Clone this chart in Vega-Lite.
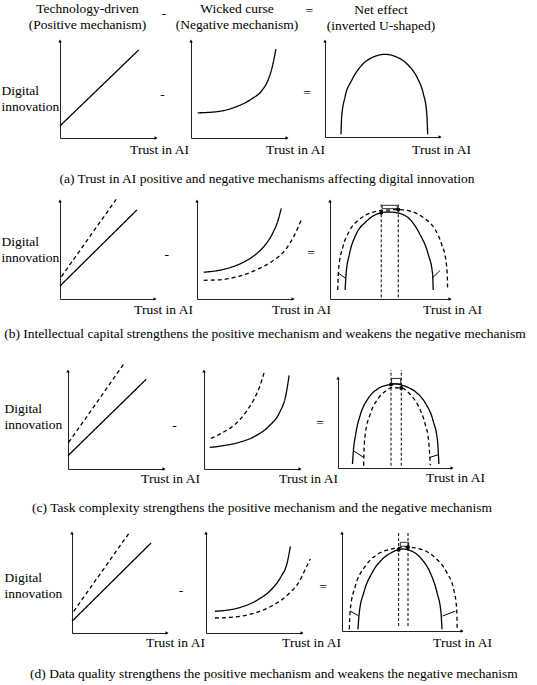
{
  "$schema": "https://vega.github.io/schema/vega-lite/v6.json",
  "padding": {"left": 1, "top": 2, "right": 2, "bottom": 2},
  "background": "white",
  "config": {
    "font": "Liberation Serif",
    "view": {"stroke": null},
    "axis": {
      "domainColor": "#222222",
      "domainWidth": 1,
      "ticks": false,
      "labels": false,
      "grid": false,
      "titleFont": "Liberation Serif",
      "titleFontSize": 13.5,
      "titleFontWeight": "normal",
      "titleColor": "black",
      "titlePadding": 0
    },
    "axisX": {"titleAlign": "center", "titleBaseline": "alphabetic"},
    "axisY": {"titleAngle": 0, "titleAlign": "left", "titleBaseline": "alphabetic", "titleLineHeight": 16},
    "text": {"font": "Liberation Serif", "fontSize": 13.5, "color": "black"},
    "line": {"color": "black", "strokeWidth": 1.3},
    "rule": {"color": "black"}
  },
  "datasets": {
    "curves": [
      {"panel": "a1", "series": "baseline", "x": 0, "y": 12.5},
      {"panel": "a1", "series": "baseline", "x": 82, "y": 90.8},
      {"panel": "a2", "series": "baseline", "x": 7, "y": 25.9},
      {"panel": "a2", "series": "baseline", "x": 28.1, "y": 27.3},
      {"panel": "a2", "series": "baseline", "x": 45.6, "y": 31.7},
      {"panel": "a2", "series": "baseline", "x": 63.2, "y": 40.3},
      {"panel": "a2", "series": "baseline", "x": 73.7, "y": 48.8},
      {"panel": "a2", "series": "baseline", "x": 80.7, "y": 60.8},
      {"panel": "a2", "series": "baseline", "x": 84.9, "y": 74.4},
      {"panel": "a2", "series": "baseline", "x": 88.4, "y": 91.5},
      {"panel": "a3", "series": "baseline", "x": 13.9, "y": 2.8},
      {"panel": "a3", "series": "baseline", "x": 14.5, "y": 20.8},
      {"panel": "a3", "series": "baseline", "x": 17.4, "y": 41.7},
      {"panel": "a3", "series": "baseline", "x": 23.2, "y": 59},
      {"panel": "a3", "series": "baseline", "x": 31.9, "y": 74.7},
      {"panel": "a3", "series": "baseline", "x": 42, "y": 83.3},
      {"panel": "a3", "series": "baseline", "x": 52.2, "y": 86.1},
      {"panel": "a3", "series": "baseline", "x": 62.3, "y": 83.3},
      {"panel": "a3", "series": "baseline", "x": 72.5, "y": 74.7},
      {"panel": "a3", "series": "baseline", "x": 80.6, "y": 60.8},
      {"panel": "a3", "series": "baseline", "x": 85.5, "y": 45.1},
      {"panel": "a3", "series": "baseline", "x": 88.4, "y": 26},
      {"panel": "a3", "series": "baseline", "x": 89.3, "y": 2.8},
      {"panel": "b1", "series": "baseline", "x": 0, "y": 13.3},
      {"panel": "b1", "series": "baseline", "x": 80.9, "y": 90.8},
      {"panel": "b1", "series": "moderated", "x": 1.5, "y": 22.8},
      {"panel": "b1", "series": "moderated", "x": 59.1, "y": 101.7},
      {"panel": "b2", "series": "baseline", "x": 7, "y": 27.3},
      {"panel": "b2", "series": "baseline", "x": 29.6, "y": 30.7},
      {"panel": "b2", "series": "baseline", "x": 47, "y": 36.9},
      {"panel": "b2", "series": "baseline", "x": 61, "y": 45.4},
      {"panel": "b2", "series": "baseline", "x": 71.4, "y": 55.6},
      {"panel": "b2", "series": "baseline", "x": 79.1, "y": 67.6},
      {"panel": "b2", "series": "baseline", "x": 84.7, "y": 81.2},
      {"panel": "b2", "series": "baseline", "x": 87.8, "y": 92.5},
      {"panel": "b2", "series": "moderated", "x": 7, "y": 19.1},
      {"panel": "b2", "series": "moderated", "x": 26.1, "y": 19.8},
      {"panel": "b2", "series": "moderated", "x": 43.6, "y": 23.2},
      {"panel": "b2", "series": "moderated", "x": 61, "y": 29.4},
      {"panel": "b2", "series": "moderated", "x": 78.4, "y": 38.6},
      {"panel": "b2", "series": "moderated", "x": 92.3, "y": 50.5},
      {"panel": "b2", "series": "moderated", "x": 101, "y": 64.2},
      {"panel": "b2", "series": "moderated", "x": 108.5, "y": 80.5},
      {"panel": "b3", "series": "baseline", "x": 12.6, "y": 9.2},
      {"panel": "b3", "series": "baseline", "x": 13.4, "y": 25.4},
      {"panel": "b3", "series": "baseline", "x": 16.2, "y": 45.8},
      {"panel": "b3", "series": "baseline", "x": 21.8, "y": 66.1},
      {"panel": "b3", "series": "baseline", "x": 30.2, "y": 79},
      {"panel": "b3", "series": "baseline", "x": 37, "y": 85.5},
      {"panel": "b3", "series": "baseline", "x": 42.7, "y": 88},
      {"panel": "b3", "series": "baseline", "x": 49, "y": 88.8},
      {"panel": "b3", "series": "baseline", "x": 58.1, "y": 87.3},
      {"panel": "b3", "series": "baseline", "x": 66.5, "y": 81.4},
      {"panel": "b3", "series": "baseline", "x": 74.9, "y": 66.1},
      {"panel": "b3", "series": "baseline", "x": 81.8, "y": 45.8},
      {"panel": "b3", "series": "baseline", "x": 85.5, "y": 25.4},
      {"panel": "b3", "series": "baseline", "x": 86, "y": 9.2},
      {"panel": "b3", "series": "moderated", "x": 6.4, "y": 9.2},
      {"panel": "b3", "series": "moderated", "x": 7.3, "y": 32.2},
      {"panel": "b3", "series": "moderated", "x": 10.6, "y": 52.5},
      {"panel": "b3", "series": "moderated", "x": 16.2, "y": 69.5},
      {"panel": "b3", "series": "moderated", "x": 24.6, "y": 81.4},
      {"panel": "b3", "series": "moderated", "x": 34.4, "y": 88.1},
      {"panel": "b3", "series": "moderated", "x": 45, "y": 90.5},
      {"panel": "b3", "series": "moderated", "x": 56.9, "y": 91.3},
      {"panel": "b3", "series": "moderated", "x": 66.5, "y": 89.8},
      {"panel": "b3", "series": "moderated", "x": 77.7, "y": 83.1},
      {"panel": "b3", "series": "moderated", "x": 87.4, "y": 71.2},
      {"panel": "b3", "series": "moderated", "x": 93, "y": 55.9},
      {"panel": "b3", "series": "moderated", "x": 96.6, "y": 39},
      {"panel": "b3", "series": "moderated", "x": 97.8, "y": 22},
      {"panel": "b3", "series": "moderated", "x": 98, "y": 9.2},
      {"panel": "c1", "series": "baseline", "x": 0, "y": 13.6},
      {"panel": "c1", "series": "baseline", "x": 81.4, "y": 91.5},
      {"panel": "c1", "series": "moderated", "x": 0.7, "y": 27.1},
      {"panel": "c1", "series": "moderated", "x": 57.9, "y": 106.8},
      {"panel": "c2", "series": "baseline", "x": 6, "y": 22},
      {"panel": "c2", "series": "baseline", "x": 20, "y": 23.8},
      {"panel": "c2", "series": "baseline", "x": 36.2, "y": 27.1},
      {"panel": "c2", "series": "baseline", "x": 53.9, "y": 33.9},
      {"panel": "c2", "series": "baseline", "x": 68.1, "y": 44.1},
      {"panel": "c2", "series": "baseline", "x": 78.7, "y": 57.6},
      {"panel": "c2", "series": "baseline", "x": 85.1, "y": 74.6},
      {"panel": "c2", "series": "baseline", "x": 88.7, "y": 95.6},
      {"panel": "c2", "series": "moderated", "x": 7.1, "y": 31.2},
      {"panel": "c2", "series": "moderated", "x": 18.4, "y": 36.6},
      {"panel": "c2", "series": "moderated", "x": 32.6, "y": 45.8},
      {"panel": "c2", "series": "moderated", "x": 43.3, "y": 57.6},
      {"panel": "c2", "series": "moderated", "x": 52.1, "y": 71.2},
      {"panel": "c2", "series": "moderated", "x": 58.2, "y": 84.7},
      {"panel": "c2", "series": "moderated", "x": 62.8, "y": 99},
      {"panel": "c3", "series": "baseline", "x": 12.7, "y": 4.4},
      {"panel": "c3", "series": "baseline", "x": 13.5, "y": 19.1},
      {"panel": "c3", "series": "baseline", "x": 15.5, "y": 37.5},
      {"panel": "c3", "series": "baseline", "x": 19.7, "y": 59.6},
      {"panel": "c3", "series": "baseline", "x": 26.8, "y": 77.9},
      {"panel": "c3", "series": "baseline", "x": 35.2, "y": 88.2},
      {"panel": "c3", "series": "baseline", "x": 45.1, "y": 92.6},
      {"panel": "c3", "series": "baseline", "x": 50.7, "y": 93.4},
      {"panel": "c3", "series": "baseline", "x": 59, "y": 90.8},
      {"panel": "c3", "series": "baseline", "x": 68, "y": 84.6},
      {"panel": "c3", "series": "baseline", "x": 76.5, "y": 72.4},
      {"panel": "c3", "series": "baseline", "x": 83.5, "y": 52.2},
      {"panel": "c3", "series": "baseline", "x": 87.3, "y": 30.1},
      {"panel": "c3", "series": "baseline", "x": 88.5, "y": 4.4},
      {"panel": "c3", "series": "moderated", "x": 22.5, "y": 2.6},
      {"panel": "c3", "series": "moderated", "x": 22.8, "y": 19.1},
      {"panel": "c3", "series": "moderated", "x": 23.9, "y": 37.5},
      {"panel": "c3", "series": "moderated", "x": 28.2, "y": 59.6},
      {"panel": "c3", "series": "moderated", "x": 34.6, "y": 76.1},
      {"panel": "c3", "series": "moderated", "x": 42.3, "y": 86},
      {"panel": "c3", "series": "moderated", "x": 47, "y": 89.2},
      {"panel": "c3", "series": "moderated", "x": 55.5, "y": 88.8},
      {"panel": "c3", "series": "moderated", "x": 63.5, "y": 81.6},
      {"panel": "c3", "series": "moderated", "x": 70.5, "y": 68.8},
      {"panel": "c3", "series": "moderated", "x": 76.5, "y": 48.5},
      {"panel": "c3", "series": "moderated", "x": 79.5, "y": 30.1},
      {"panel": "c3", "series": "moderated", "x": 81, "y": 3},
      {"panel": "d1", "series": "baseline", "x": 0, "y": 11.7},
      {"panel": "d1", "series": "baseline", "x": 83.2, "y": 90},
      {"panel": "d1", "series": "moderated", "x": 1.8, "y": 21.7},
      {"panel": "d1", "series": "moderated", "x": 61.4, "y": 101.7},
      {"panel": "d2", "series": "baseline", "x": 9.3, "y": 21.7},
      {"panel": "d2", "series": "baseline", "x": 33.4, "y": 25},
      {"panel": "d2", "series": "baseline", "x": 54.1, "y": 33.3},
      {"panel": "d2", "series": "baseline", "x": 67.9, "y": 43.3},
      {"panel": "d2", "series": "baseline", "x": 78.3, "y": 56.7},
      {"panel": "d2", "series": "baseline", "x": 84.5, "y": 70},
      {"panel": "d2", "series": "baseline", "x": 87.9, "y": 86.7},
      {"panel": "d2", "series": "moderated", "x": 9.3, "y": 15},
      {"panel": "d2", "series": "moderated", "x": 30, "y": 16},
      {"panel": "d2", "series": "moderated", "x": 50.7, "y": 20},
      {"panel": "d2", "series": "moderated", "x": 67.9, "y": 26.7},
      {"panel": "d2", "series": "moderated", "x": 85.2, "y": 38.3},
      {"panel": "d2", "series": "moderated", "x": 97.2, "y": 51.7},
      {"panel": "d2", "series": "moderated", "x": 104.1, "y": 65},
      {"panel": "d2", "series": "moderated", "x": 108.6, "y": 74},
      {"panel": "d3", "series": "baseline", "x": 13.3, "y": 1.7},
      {"panel": "d3", "series": "baseline", "x": 14.4, "y": 18.6},
      {"panel": "d3", "series": "baseline", "x": 18.1, "y": 39},
      {"panel": "d3", "series": "baseline", "x": 25, "y": 59.3},
      {"panel": "d3", "series": "baseline", "x": 33.3, "y": 72.9},
      {"panel": "d3", "series": "baseline", "x": 41.7, "y": 80.3},
      {"panel": "d3", "series": "baseline", "x": 50, "y": 83.7},
      {"panel": "d3", "series": "baseline", "x": 58.3, "y": 81.4},
      {"panel": "d3", "series": "baseline", "x": 66.7, "y": 72.9},
      {"panel": "d3", "series": "baseline", "x": 73.6, "y": 59.3},
      {"panel": "d3", "series": "baseline", "x": 79.2, "y": 39},
      {"panel": "d3", "series": "baseline", "x": 82.5, "y": 18.6},
      {"panel": "d3", "series": "baseline", "x": 83.3, "y": 1.7},
      {"panel": "d3", "series": "moderated", "x": 6.1, "y": 1.7},
      {"panel": "d3", "series": "moderated", "x": 6.9, "y": 22},
      {"panel": "d3", "series": "moderated", "x": 11.1, "y": 45.8},
      {"panel": "d3", "series": "moderated", "x": 19.4, "y": 66.1},
      {"panel": "d3", "series": "moderated", "x": 29.2, "y": 78},
      {"panel": "d3", "series": "moderated", "x": 41.7, "y": 83.7},
      {"panel": "d3", "series": "moderated", "x": 52.8, "y": 85.8},
      {"panel": "d3", "series": "moderated", "x": 66.7, "y": 83.1},
      {"panel": "d3", "series": "moderated", "x": 77.8, "y": 74.6},
      {"panel": "d3", "series": "moderated", "x": 87.5, "y": 59.3},
      {"panel": "d3", "series": "moderated", "x": 93.1, "y": 42.4},
      {"panel": "d3", "series": "moderated", "x": 95.6, "y": 22},
      {"panel": "d3", "series": "moderated", "x": 96, "y": 1.7}
    ],
    "peaks": [
      {"panel": "b3", "series": "baseline", "x": 42.7, "y": 88},
      {"panel": "b3", "series": "moderated", "x": 56.9, "y": 91.3},
      {"panel": "c3", "series": "baseline", "x": 46.5, "y": 92.8},
      {"panel": "c3", "series": "moderated", "x": 55.5, "y": 88.8},
      {"panel": "d3", "series": "baseline", "x": 47.2, "y": 82.8},
      {"panel": "d3", "series": "moderated", "x": 55, "y": 85.4}
    ],
    "shifts": [
      {"panel": "b3", "x": 7.3, "y": 26.1, "x2": 12.8, "y2": 21.4},
      {"panel": "b3", "x": 85.3, "y": 21.4, "x2": 91.6, "y2": 29},
      {"panel": "c3", "x": 13.5, "y": 19.1, "x2": 22.6, "y2": 11.8},
      {"panel": "c3", "x": 80.5, "y": 11.8, "x2": 87.8, "y2": 14.7},
      {"panel": "d3", "x": 6.9, "y": 20.3, "x2": 13.3, "y2": 15.9},
      {"panel": "d3", "x": 83.9, "y": 15.3, "x2": 94.4, "y2": 20.3}
    ],
    "boxes": [
      {"panel": "b3", "x": 43.5, "x2": 56, "y": 92.2, "y2": 95.6},
      {"panel": "c3", "x": 47, "x2": 55, "y": 93.5, "y2": 99.5},
      {"panel": "d3", "x": 48.6, "x2": 55.6, "y": 86.5, "y2": 90.5}
    ]
  },
  "columns": 3,
  "spacing": 0,
  "bounds": "flush",
  "align": "each",
  "concat": [
    {
      "width": 132, "height": 160,
      "layer": [
        {
          "data": {"name": "curves"},
          "transform": [{"filter": "datum.panel === 'a1'"}],
          "mark": {"type": "line", "interpolate": "monotone"},
          "encoding": {
            "x": {"field": "x", "type": "quantitative", "scale": {"domain": [0, 100], "range": [1, 97]}, "axis": {"title": "Trust in AI", "offset": -63, "titleX": 100, "titleY": 15}},
            "y": {"field": "y", "type": "quantitative", "scale": {"domain": [0, 100], "range": [97, 0]}, "axis": {"title": ["Digital", "innovation"], "offset": -1, "titleX": -59, "titleY": 53.5}},
            "strokeDash": {"field": "series", "type": "nominal", "scale": {"domain": ["baseline", "moderated"], "range": [[1, 0], [4, 3]]}, "legend": null}
          }
        },
        {"data": {"values": [{}]}, "mark": {"type": "point", "shape": "triangle-up", "filled": true, "size": 12, "color": "black", "opacity": 1}, "encoding": {"x": {"datum": 0}, "y": {"datum": 100}}},
        {"data": {"values": [{}]}, "mark": {"type": "point", "shape": "triangle-right", "filled": true, "size": 12, "color": "black", "opacity": 1}, "encoding": {"x": {"datum": 100}, "y": {"datum": 0}}},
        {"data": {"values": [{}]}, "mark": {"type": "text", "align": "center", "baseline": "alphabetic", "lineHeight": 16}, "encoding": {"x": {"datum": 28.6}, "y": {"datum": 128.4}, "text": {"value": ["Technology-driven", "(Positive mechanism)"]}}}
      ]
    },
    {
      "width": 133, "height": 160,
      "layer": [
        {
          "data": {"name": "curves"},
          "transform": [{"filter": "datum.panel === 'a2'"}],
          "mark": {"type": "line", "interpolate": "monotone"},
          "encoding": {
            "x": {"field": "x", "type": "quantitative", "scale": {"domain": [0, 100], "range": [0, 96]}, "axis": {"title": "Trust in AI", "offset": -63, "titleX": 104, "titleY": 15}},
            "y": {"field": "y", "type": "quantitative", "scale": {"domain": [0, 100], "range": [97, 0]}, "axis": {"title": null, "offset": 0}},
            "strokeDash": {"field": "series", "type": "nominal", "scale": {"domain": ["baseline", "moderated"], "range": [[1, 0], [4, 3]]}, "legend": null}
          }
        },
        {"data": {"values": [{}]}, "mark": {"type": "point", "shape": "triangle-up", "filled": true, "size": 12, "color": "black", "opacity": 1}, "encoding": {"x": {"datum": 0}, "y": {"datum": 100}}},
        {"data": {"values": [{}]}, "mark": {"type": "point", "shape": "triangle-right", "filled": true, "size": 12, "color": "black", "opacity": 1}, "encoding": {"x": {"datum": 100}, "y": {"datum": 0}}},
        {"data": {"values": [{}]}, "mark": {"type": "text", "align": "center", "baseline": "alphabetic", "lineHeight": 16}, "encoding": {"x": {"datum": 47.9}, "y": {"datum": 128.4}, "text": {"value": ["Wicked curse", "(Negative mechanism)"]}}},
        {"data": {"values": [{}]}, "mark": {"type": "text", "align": "center", "baseline": "middle"}, "encoding": {"x": {"datum": -28.1}, "y": {"datum": 127.8}, "text": {"value": "-"}}},
        {"data": {"values": [{}]}, "mark": {"type": "text", "align": "center", "baseline": "middle"}, "encoding": {"x": {"datum": -29.8}, "y": {"datum": 44.3}, "text": {"value": "-"}}},
        {"data": {"values": [{}]}, "mark": {"type": "text", "align": "center", "baseline": "alphabetic"}, "encoding": {"x": {"datum": 79.2}, "y": {"datum": -46.1}, "text": {"value": "(a) Trust in AI positive and negative mechanisms affecting digital innovation"}}}
      ]
    },
    {
      "width": 150, "height": 160,
      "layer": [
        {
          "data": {"name": "curves"},
          "transform": [{"filter": "datum.panel === 'a3'"}],
          "mark": {"type": "line", "interpolate": "monotone"},
          "encoding": {
            "x": {"field": "x", "type": "quantitative", "scale": {"domain": [0, 100], "range": [1, 116]}, "axis": {"title": "Trust in AI", "offset": -64, "titleX": 117, "titleY": 16}},
            "y": {"field": "y", "type": "quantitative", "scale": {"domain": [0, 100], "range": [96, 0]}, "axis": {"title": null, "offset": -1}},
            "strokeDash": {"field": "series", "type": "nominal", "scale": {"domain": ["baseline", "moderated"], "range": [[1, 0], [4, 3]]}, "legend": null}
          }
        },
        {"data": {"values": [{}]}, "mark": {"type": "point", "shape": "triangle-up", "filled": true, "size": 12, "color": "black", "opacity": 1}, "encoding": {"x": {"datum": 0}, "y": {"datum": 100}}},
        {"data": {"values": [{}]}, "mark": {"type": "point", "shape": "triangle-right", "filled": true, "size": 12, "color": "black", "opacity": 1}, "encoding": {"x": {"datum": 100}, "y": {"datum": 0}}},
        {"data": {"values": [{}]}, "mark": {"type": "text", "align": "center", "baseline": "alphabetic", "lineHeight": 16}, "encoding": {"x": {"datum": 48.7}, "y": {"datum": 128.6}, "text": {"value": ["Net effect", "(inverted U-shaped)"]}}},
        {"data": {"values": [{}]}, "mark": {"type": "text", "align": "center", "baseline": "middle"}, "encoding": {"x": {"datum": -13.6}, "y": {"datum": 131.3}, "text": {"value": "="}}},
        {"data": {"values": [{}]}, "mark": {"type": "text", "align": "center", "baseline": "middle"}, "encoding": {"x": {"datum": -15.7}, "y": {"datum": 45.8}, "text": {"value": "="}}}
      ]
    },
    {
      "width": 132, "height": 168,
      "layer": [
        {
          "data": {"name": "curves"},
          "transform": [{"filter": "datum.panel === 'b1'"}],
          "mark": {"type": "line", "interpolate": "monotone"},
          "encoding": {
            "x": {"field": "x", "type": "quantitative", "scale": {"domain": [0, 100], "range": [1, 96]}, "axis": {"title": "Trust in AI", "offset": -70, "titleX": 104, "titleY": 14}},
            "y": {"field": "y", "type": "quantitative", "scale": {"domain": [0, 100], "range": [98, 0]}, "axis": {"title": ["Digital", "innovation"], "offset": -1, "titleX": -59, "titleY": 44.5}},
            "strokeDash": {"field": "series", "type": "nominal", "scale": {"domain": ["baseline", "moderated"], "range": [[1, 0], [4, 3]]}, "legend": null}
          }
        },
        {"data": {"values": [{}]}, "mark": {"type": "point", "shape": "triangle-up", "filled": true, "size": 12, "color": "black", "opacity": 1}, "encoding": {"x": {"datum": 0}, "y": {"datum": 100}}},
        {"data": {"values": [{}]}, "mark": {"type": "point", "shape": "triangle-right", "filled": true, "size": 12, "color": "black", "opacity": 1}, "encoding": {"x": {"datum": 100}, "y": {"datum": 0}}}
      ]
    },
    {
      "width": 133, "height": 168,
      "layer": [
        {
          "data": {"name": "curves"},
          "transform": [{"filter": "datum.panel === 'b2'"}],
          "mark": {"type": "line", "interpolate": "monotone"},
          "encoding": {
            "x": {"field": "x", "type": "quantitative", "scale": {"domain": [0, 100], "range": [6, 102]}, "axis": {"title": "Trust in AI", "offset": -70, "titleX": 110, "titleY": 14}},
            "y": {"field": "y", "type": "quantitative", "scale": {"domain": [0, 100], "range": [98, 0]}, "axis": {"title": null, "offset": -6}},
            "strokeDash": {"field": "series", "type": "nominal", "scale": {"domain": ["baseline", "moderated"], "range": [[1, 0], [4, 3]]}, "legend": null}
          }
        },
        {"data": {"values": [{}]}, "mark": {"type": "point", "shape": "triangle-up", "filled": true, "size": 12, "color": "black", "opacity": 1}, "encoding": {"x": {"datum": 0}, "y": {"datum": 100}}},
        {"data": {"values": [{}]}, "mark": {"type": "point", "shape": "triangle-right", "filled": true, "size": 12, "color": "black", "opacity": 1}, "encoding": {"x": {"datum": 100}, "y": {"datum": 0}}},
        {"data": {"values": [{}]}, "mark": {"type": "text", "align": "center", "baseline": "middle"}, "encoding": {"x": {"datum": -31.5}, "y": {"datum": 44.9}, "text": {"value": "-"}}},
        {"data": {"values": [{}]}, "mark": {"type": "text", "align": "center", "baseline": "alphabetic"}, "encoding": {"x": {"datum": 70.8}, "y": {"datum": -39.5}, "text": {"value": "(b) Intellectual capital strengthens the positive mechanism and weakens the negative mechanism"}}}
      ]
    },
    {
      "width": 150, "height": 168,
      "layer": [
        {
          "data": {"name": "curves"},
          "transform": [{"filter": "datum.panel === 'b3'"}],
          "mark": {"type": "line", "interpolate": "monotone"},
          "encoding": {
            "x": {"field": "x", "type": "quantitative", "scale": {"domain": [0, 100], "range": [6, 126]}, "axis": {"title": "Trust in AI", "offset": -70, "titleX": 128, "titleY": 14}},
            "y": {"field": "y", "type": "quantitative", "scale": {"domain": [0, 100], "range": [98, 0]}, "axis": {"title": null, "offset": -6}},
            "strokeDash": {"field": "series", "type": "nominal", "scale": {"domain": ["baseline", "moderated"], "range": [[1, 0], [4, 3]]}, "legend": null}
          }
        },
        {"data": {"name": "peaks"}, "transform": [{"filter": "datum.panel === 'b3'"}], "mark": {"type": "rule", "strokeDash": [3, 2], "strokeWidth": 1}, "encoding": {"x": {"field": "x", "type": "quantitative"}, "y": {"datum": 1.7}, "y2": {"datum": 98.3}}},
        {"data": {"name": "peaks"}, "transform": [{"filter": "datum.panel === 'b3'"}], "mark": {"type": "point", "shape": "circle", "filled": true, "size": 16, "color": "black", "opacity": 1}, "encoding": {"x": {"field": "x", "type": "quantitative"}, "y": {"field": "y", "type": "quantitative"}}},
        {"data": {"name": "shifts"}, "transform": [{"filter": "datum.panel === 'b3'"}], "mark": {"type": "rule", "strokeWidth": 1}, "encoding": {"x": {"field": "x", "type": "quantitative"}, "y": {"field": "y", "type": "quantitative"}, "x2": {"field": "x2"}, "y2": {"field": "y2"}}},
        {"data": {"name": "boxes"}, "transform": [{"filter": "datum.panel === 'b3'"}], "mark": {"type": "rect", "filled": false, "strokeWidth": 0.8, "color": "black"}, "encoding": {"x": {"field": "x", "type": "quantitative"}, "x2": {"field": "x2"}, "y": {"field": "y", "type": "quantitative"}, "y2": {"field": "y2"}}},
        {"data": {"values": [{}]}, "mark": {"type": "point", "shape": "triangle-up", "filled": true, "size": 12, "color": "black", "opacity": 1}, "encoding": {"x": {"datum": 0}, "y": {"datum": 100}}},
        {"data": {"values": [{}]}, "mark": {"type": "point", "shape": "triangle-right", "filled": true, "size": 12, "color": "black", "opacity": 1}, "encoding": {"x": {"datum": 100}, "y": {"datum": 0}}},
        {"data": {"values": [{}]}, "mark": {"type": "text", "align": "center", "baseline": "middle"}, "encoding": {"x": {"datum": -15.8}, "y": {"datum": 46.9}, "text": {"value": "="}}}
      ]
    },
    {
      "width": 132, "height": 162,
      "layer": [
        {
          "data": {"name": "curves"},
          "transform": [{"filter": "datum.panel === 'c1'"}],
          "mark": {"type": "line", "interpolate": "monotone"},
          "encoding": {
            "x": {"field": "x", "type": "quantitative", "scale": {"domain": [0, 100], "range": [9, 105]}, "axis": {"title": "Trust in AI", "offset": -62, "titleX": 111, "titleY": 13.7}},
            "y": {"field": "y", "type": "quantitative", "scale": {"domain": [0, 100], "range": [100, 2]}, "axis": {"title": ["Digital", "innovation"], "offset": -9, "titleX": -64, "titleY": 43}},
            "strokeDash": {"field": "series", "type": "nominal", "scale": {"domain": ["baseline", "moderated"], "range": [[1, 0], [4, 3]]}, "legend": null}
          }
        },
        {"data": {"values": [{}]}, "mark": {"type": "point", "shape": "triangle-up", "filled": true, "size": 12, "color": "black", "opacity": 1}, "encoding": {"x": {"datum": 0}, "y": {"datum": 100}}},
        {"data": {"values": [{}]}, "mark": {"type": "point", "shape": "triangle-right", "filled": true, "size": 12, "color": "black", "opacity": 1}, "encoding": {"x": {"datum": 100}, "y": {"datum": 0}}}
      ]
    },
    {
      "width": 133, "height": 162,
      "layer": [
        {
          "data": {"name": "curves"},
          "transform": [{"filter": "datum.panel === 'c2'"}],
          "mark": {"type": "line", "interpolate": "monotone"},
          "encoding": {
            "x": {"field": "x", "type": "quantitative", "scale": {"domain": [0, 100], "range": [13, 109]}, "axis": {"title": "Trust in AI", "offset": -62, "titleX": 117, "titleY": 13.7}},
            "y": {"field": "y", "type": "quantitative", "scale": {"domain": [0, 100], "range": [100, 2]}, "axis": {"title": null, "offset": -13}},
            "strokeDash": {"field": "series", "type": "nominal", "scale": {"domain": ["baseline", "moderated"], "range": [[1, 0], [4, 3]]}, "legend": null}
          }
        },
        {"data": {"values": [{}]}, "mark": {"type": "point", "shape": "triangle-up", "filled": true, "size": 12, "color": "black", "opacity": 1}, "encoding": {"x": {"datum": 0}, "y": {"datum": 100}}},
        {"data": {"values": [{}]}, "mark": {"type": "point", "shape": "triangle-right", "filled": true, "size": 12, "color": "black", "opacity": 1}, "encoding": {"x": {"datum": 100}, "y": {"datum": 0}}},
        {"data": {"values": [{}]}, "mark": {"type": "text", "align": "center", "baseline": "middle"}, "encoding": {"x": {"datum": -30.8}, "y": {"datum": 43.9}, "text": {"value": "-"}}},
        {"data": {"values": [{}]}, "mark": {"type": "text", "align": "center", "baseline": "alphabetic"}, "encoding": {"x": {"datum": 60.4}, "y": {"datum": -43.9}, "text": {"value": "(c) Task complexity strengthens the positive mechanism and the negative mechanism"}}}
      ]
    },
    {
      "width": 150, "height": 162,
      "layer": [
        {
          "data": {"name": "curves"},
          "transform": [{"filter": "datum.panel === 'c3'"}],
          "mark": {"type": "line", "interpolate": "monotone"},
          "encoding": {
            "x": {"field": "x", "type": "quantitative", "scale": {"domain": [0, 100], "range": [14, 128]}, "axis": {"title": "Trust in AI", "offset": -63, "titleX": 131, "titleY": 13}},
            "y": {"field": "y", "type": "quantitative", "scale": {"domain": [0, 100], "range": [99, 9]}, "axis": {"title": null, "offset": -14}},
            "strokeDash": {"field": "series", "type": "nominal", "scale": {"domain": ["baseline", "moderated"], "range": [[1, 0], [4, 3]]}, "legend": null}
          }
        },
        {"data": {"name": "peaks"}, "transform": [{"filter": "datum.panel === 'c3'"}], "mark": {"type": "rule", "strokeDash": [3, 2], "strokeWidth": 1}, "encoding": {"x": {"field": "x", "type": "quantitative"}, "y": {"datum": 2.6}, "y2": {"datum": 109}}},
        {"data": {"name": "peaks"}, "transform": [{"filter": "datum.panel === 'c3'"}], "mark": {"type": "point", "shape": "circle", "filled": true, "size": 16, "color": "black", "opacity": 1}, "encoding": {"x": {"field": "x", "type": "quantitative"}, "y": {"field": "y", "type": "quantitative"}}},
        {"data": {"name": "shifts"}, "transform": [{"filter": "datum.panel === 'c3'"}], "mark": {"type": "rule", "strokeWidth": 1}, "encoding": {"x": {"field": "x", "type": "quantitative"}, "y": {"field": "y", "type": "quantitative"}, "x2": {"field": "x2"}, "y2": {"field": "y2"}}},
        {"data": {"name": "boxes"}, "transform": [{"filter": "datum.panel === 'c3'"}], "mark": {"type": "rect", "filled": false, "strokeWidth": 0.8, "color": "black"}, "encoding": {"x": {"field": "x", "type": "quantitative"}, "x2": {"field": "x2"}, "y": {"field": "y", "type": "quantitative"}, "y2": {"field": "y2"}}},
        {"data": {"values": [{}]}, "mark": {"type": "point", "shape": "triangle-up", "filled": true, "size": 12, "color": "black", "opacity": 1}, "encoding": {"x": {"datum": 0}, "y": {"datum": 100}}},
        {"data": {"values": [{}]}, "mark": {"type": "point", "shape": "triangle-right", "filled": true, "size": 12, "color": "black", "opacity": 1}, "encoding": {"x": {"datum": 100}, "y": {"datum": 0}}},
        {"data": {"values": [{}]}, "mark": {"type": "text", "align": "center", "baseline": "middle"}, "encoding": {"x": {"datum": -15.8}, "y": {"datum": 49.7}, "text": {"value": "="}}}
      ]
    },
    {
      "width": 132, "height": 120,
      "layer": [
        {
          "data": {"name": "curves"},
          "transform": [{"filter": "datum.panel === 'd1'"}],
          "mark": {"type": "line", "interpolate": "monotone"},
          "encoding": {
            "x": {"field": "x", "type": "quantitative", "scale": {"domain": [0, 100], "range": [13, 108]}, "axis": {"title": "Trust in AI", "offset": -18, "titleX": 116, "titleY": 13}},
            "y": {"field": "y", "type": "quantitative", "scale": {"domain": [0, 100], "range": [102, 2]}, "axis": {"title": ["Digital", "innovation"], "offset": -13, "titleX": -68, "titleY": 50}},
            "strokeDash": {"field": "series", "type": "nominal", "scale": {"domain": ["baseline", "moderated"], "range": [[1, 0], [4, 3]]}, "legend": null}
          }
        },
        {"data": {"values": [{}]}, "mark": {"type": "point", "shape": "triangle-up", "filled": true, "size": 12, "color": "black", "opacity": 1}, "encoding": {"x": {"datum": 0}, "y": {"datum": 100}}},
        {"data": {"values": [{}]}, "mark": {"type": "point", "shape": "triangle-right", "filled": true, "size": 12, "color": "black", "opacity": 1}, "encoding": {"x": {"datum": 100}, "y": {"datum": 0}}}
      ]
    },
    {
      "width": 133, "height": 120,
      "layer": [
        {
          "data": {"name": "curves"},
          "transform": [{"filter": "datum.panel === 'd2'"}],
          "mark": {"type": "line", "interpolate": "monotone"},
          "encoding": {
            "x": {"field": "x", "type": "quantitative", "scale": {"domain": [0, 100], "range": [15, 111]}, "axis": {"title": "Trust in AI", "offset": -18, "titleX": 120, "titleY": 13}},
            "y": {"field": "y", "type": "quantitative", "scale": {"domain": [0, 100], "range": [102, 2]}, "axis": {"title": null, "offset": -15}},
            "strokeDash": {"field": "series", "type": "nominal", "scale": {"domain": ["baseline", "moderated"], "range": [[1, 0], [4, 3]]}, "legend": null}
          }
        },
        {"data": {"values": [{}]}, "mark": {"type": "point", "shape": "triangle-up", "filled": true, "size": 12, "color": "black", "opacity": 1}, "encoding": {"x": {"datum": 0}, "y": {"datum": 100}}},
        {"data": {"values": [{}]}, "mark": {"type": "point", "shape": "triangle-right", "filled": true, "size": 12, "color": "black", "opacity": 1}, "encoding": {"x": {"datum": 100}, "y": {"datum": 0}}},
        {"data": {"values": [{}]}, "mark": {"type": "text", "align": "center", "baseline": "middle"}, "encoding": {"x": {"datum": -26}, "y": {"datum": 42}, "text": {"value": "-"}}},
        {"data": {"values": [{}]}, "mark": {"type": "text", "align": "center", "baseline": "alphabetic"}, "encoding": {"x": {"datum": 70.8}, "y": {"datum": -45}, "text": {"value": "(d) Data quality strengthens the positive mechanism and weakens the negative mechanism"}}}
      ]
    },
    {
      "width": 150, "height": 120,
      "layer": [
        {
          "data": {"name": "curves"},
          "transform": [{"filter": "datum.panel === 'd3'"}],
          "mark": {"type": "line", "interpolate": "monotone"},
          "encoding": {
            "x": {"field": "x", "type": "quantitative", "scale": {"domain": [0, 100], "range": [18, 138]}, "axis": {"title": "Trust in AI", "offset": -20, "titleX": 138, "titleY": 15}},
            "y": {"field": "y", "type": "quantitative", "scale": {"domain": [0, 100], "range": [100, 2]}, "axis": {"title": null, "offset": -18}},
            "strokeDash": {"field": "series", "type": "nominal", "scale": {"domain": ["baseline", "moderated"], "range": [[1, 0], [4, 3]]}, "legend": null}
          }
        },
        {"data": {"name": "peaks"}, "transform": [{"filter": "datum.panel === 'd3'"}], "mark": {"type": "rule", "strokeDash": [3, 2], "strokeWidth": 1}, "encoding": {"x": {"field": "x", "type": "quantitative"}, "y": {"datum": 5.1}, "y2": {"datum": 100}}},
        {"data": {"name": "peaks"}, "transform": [{"filter": "datum.panel === 'd3'"}], "mark": {"type": "point", "shape": "circle", "filled": true, "size": 16, "color": "black", "opacity": 1}, "encoding": {"x": {"field": "x", "type": "quantitative"}, "y": {"field": "y", "type": "quantitative"}}},
        {"data": {"name": "shifts"}, "transform": [{"filter": "datum.panel === 'd3'"}], "mark": {"type": "rule", "strokeWidth": 1}, "encoding": {"x": {"field": "x", "type": "quantitative"}, "y": {"field": "y", "type": "quantitative"}, "x2": {"field": "x2"}, "y2": {"field": "y2"}}},
        {"data": {"name": "boxes"}, "transform": [{"filter": "datum.panel === 'd3'"}], "mark": {"type": "rect", "filled": false, "strokeWidth": 0.8, "color": "black"}, "encoding": {"x": {"field": "x", "type": "quantitative"}, "x2": {"field": "x2"}, "y": {"field": "y", "type": "quantitative"}, "y2": {"field": "y2"}}},
        {"data": {"values": [{}]}, "mark": {"type": "point", "shape": "triangle-up", "filled": true, "size": 12, "color": "black", "opacity": 1}, "encoding": {"x": {"datum": 0}, "y": {"datum": 100}}},
        {"data": {"values": [{}]}, "mark": {"type": "point", "shape": "triangle-right", "filled": true, "size": 12, "color": "black", "opacity": 1}, "encoding": {"x": {"datum": 100}, "y": {"datum": 0}}},
        {"data": {"values": [{}]}, "mark": {"type": "text", "align": "center", "baseline": "middle"}, "encoding": {"x": {"datum": -15.8}, "y": {"datum": 44.9}, "text": {"value": "="}}}
      ]
    }
  ]
}
